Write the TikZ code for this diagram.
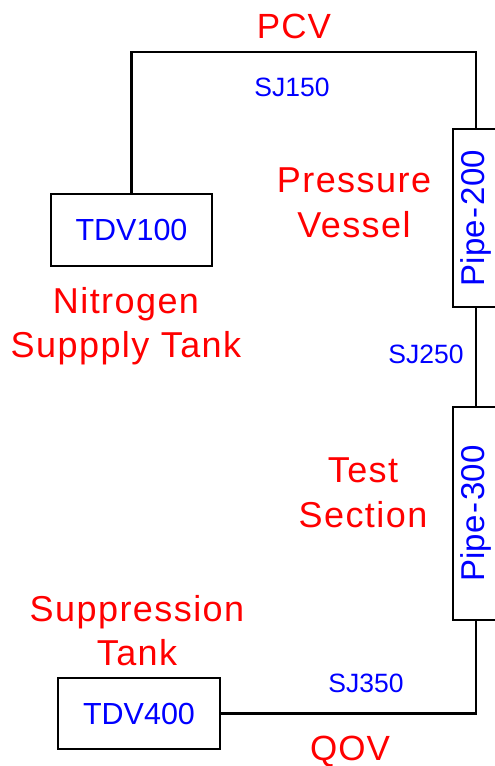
\documentclass[tikz,border=0pt]{standalone}
\usepackage{fontspec}
\setmainfont{Liberation Sans}
\usetikzlibrary{positioning}

\begin{document}
\begin{tikzpicture}[x=1pt,y=-1pt,
    pipeline/.style={line width=2.7pt},
    unitbox/.style={draw,line width=2.7pt,inner sep=0pt,text=blue,font=\fontsize{30.5}{36}\selectfont},
    pipebox/.style={unitbox,rotate=90,minimum height=46pt,font=\fontsize{33}{36}\selectfont},
    partname/.style={text=red,align=center,inner sep=0pt,anchor=north,font=\fontsize{36}{44.5}\selectfont\addfontfeature{LetterSpace=4}},
    valvename/.style={text=red,inner sep=0pt,anchor=base,font=\fontsize{35}{44}\selectfont\addfontfeature{LetterSpace=3}},
    junction/.style={text=blue,inner sep=0pt,anchor=base,font=\fontsize{26.5}{30}\selectfont}]
    \useasboundingbox (0,0) rectangle (495,766);
    % components
    \node[unitbox,minimum width=161pt,minimum height=72pt] (tdv100) at (131.5,230) {TDV100};
    \node[pipebox,minimum width=178pt] (pipe200) at (476,218) {Pipe\kern2pt-\kern2pt200};
    \node[pipebox,minimum width=213pt] (pipe300) at (476,513.5) {Pipe\kern2pt-\kern2pt300};
    \node[unitbox,minimum width=162pt,minimum height=71pt] (tdv400) at (139,713.5) {TDV400};
    \coordinate (pcvjoint) at (476,52);
    % labels
    \node[valvename] (pcv) at (294,38.5) {PCV};
    \node[junction] (sj150) at (292,96) {SJ150};
    \node[partname] (vessel) at (354,168) {Pressure\\Vessel};
    \node[partname] (supply) at (126,287) {Nitrogen\\Suppply Tank};
    \node[junction] (sj250) at (426,363) {SJ250};
    \node[partname] (testsec) at (363,458) {Test\\Section};
    \node[partname] (suppr) at (137,595) {Suppression\\Tank};
    \node[junction] (sj350) at (366,692) {SJ350};
    \node[valvename] (qov) at (350,760) {QOV};
    % connections
    \draw[pipeline] (tdv100.north) |- (pcvjoint) -- (pipe200.east);
    \draw[pipeline] (pipe200.west) -- (pipe300.east);
    \draw[pipeline] (tdv400.east) -| (pipe300.west);
  \end{tikzpicture}
\end{document}
